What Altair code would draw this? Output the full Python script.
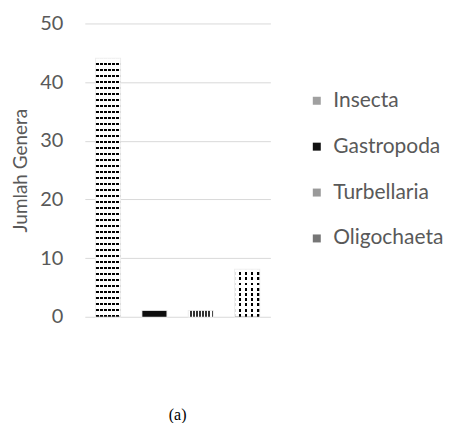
import altair as alt
import pandas as pd

# ---- data ----
kelas = ["Insecta", "Gastropoda", "Turbellaria", "Oligochaeta"]
jumlah = [44, 1, 1, 8]
y_ticks = [0, 10, 20, 30, 40, 50]
legend_colors = ["#a0a0a0", "#111111", "#9a9a9a", "#767676"]

df = pd.DataFrame({"Kelas": kelas, "Jumlah": jumlah})

FONT = "Lato"
GREY = "#595959"
CLEAR = "rgba(255,255,255,0)"


def stripes(n, dark, c1, c2, vertical):
    """hard-edged stripe gradient used as a fill pattern"""
    stops = []
    for i in range(n):
        a = i / n
        b = (i + 1 - dark) / n
        c = (i + 1) / n
        stops += [
            alt.GradientStop(color=c1, offset=a),
            alt.GradientStop(color=c1, offset=b),
            alt.GradientStop(color=c2, offset=b),
            alt.GradientStop(color=c2, offset=c),
        ]
    if vertical:
        return alt.Gradient(gradient="linear", stops=stops, x1=0, x2=0, y1=0, y2=1)
    return alt.Gradient(gradient="linear", stops=stops, x1=0, x2=1, y1=0, y2=0)


x_enc = alt.X("Kelas:N", sort=kelas, axis=None,
              scale=alt.Scale(paddingInner=0.48, paddingOuter=0.24))
y_enc = alt.Y("Jumlah:Q",
              scale=alt.Scale(domain=[0, 50], nice=False),
              axis=alt.Axis(values=y_ticks, title="Jumlah Genera"))

base = alt.Chart(df).encode(x=x_enc, y=y_enc)

legend_layer = base.mark_bar(stroke="#ededed", strokeWidth=2).encode(
    color=alt.Color("Kelas:N", sort=kelas,
                    scale=alt.Scale(domain=kelas, range=legend_colors),
                    legend=alt.Legend(title=None))
)

insecta_h = base.mark_bar(
    fill=stripes(43, 0.3, "#ffffff", "#000000", True)
).transform_filter(alt.datum.Kelas == "Insecta")

insecta_v = base.mark_bar(
    fill=stripes(6, 0.22, CLEAR, "#ffffff", False)
).transform_filter(alt.datum.Kelas == "Insecta")

gastro = base.mark_bar(fill="#0d0d0d").transform_filter(alt.datum.Kelas == "Gastropoda")

turb = base.mark_bar(
    fill=stripes(8, 0.45, "#ffffff", "#333333", False)
).transform_filter(alt.datum.Kelas == "Turbellaria")

oligo_h = base.mark_bar(
    fill=stripes(9, 0.55, "#ffffff", "#000000", True)
).transform_filter(alt.datum.Kelas == "Oligochaeta")

oligo_v = base.mark_bar(
    fill=stripes(4, 0.4, "#ffffff", CLEAR, False)
).transform_filter(alt.datum.Kelas == "Oligochaeta")

chart = alt.layer(
    legend_layer, insecta_h, insecta_v, gastro, turb, oligo_h, oligo_v
).properties(
    width=186,
    height=294,
    padding={"left": 3, "top": 5, "right": 0, "bottom": 0},
    title=alt.TitleParams(
        "(a)", orient="bottom", anchor="middle", frame="group",
        font="Liberation Serif", fontSize=16, fontWeight="normal",
        color="#000000", offset=80,
    ),
).configure_view(
    stroke=None
).configure_axis(
    domain=False,
    ticks=False,
    grid=True,
    gridColor="#d9d9d9",
    gridWidth=1,
    labelFont=FONT,
    labelFontSize=20,
    labelColor=GREY,
    labelPadding=22,
    titleFont=FONT,
    titleFontSize=19,
    titleFontWeight="normal",
    titleColor=GREY,
    titlePadding=9,
).configure_legend(
    orient="none",
    legendX=222,
    legendY=67,
    symbolType="square",
    symbolSize=64,
    symbolStrokeWidth=0,
    labelFont=FONT,
    labelFontSize=21,
    labelColor=GREY,
    labelOffset=6,
    rowPadding=24,
)

chart.save("out.html", embed_options={"renderer": "svg", "actions": False})
